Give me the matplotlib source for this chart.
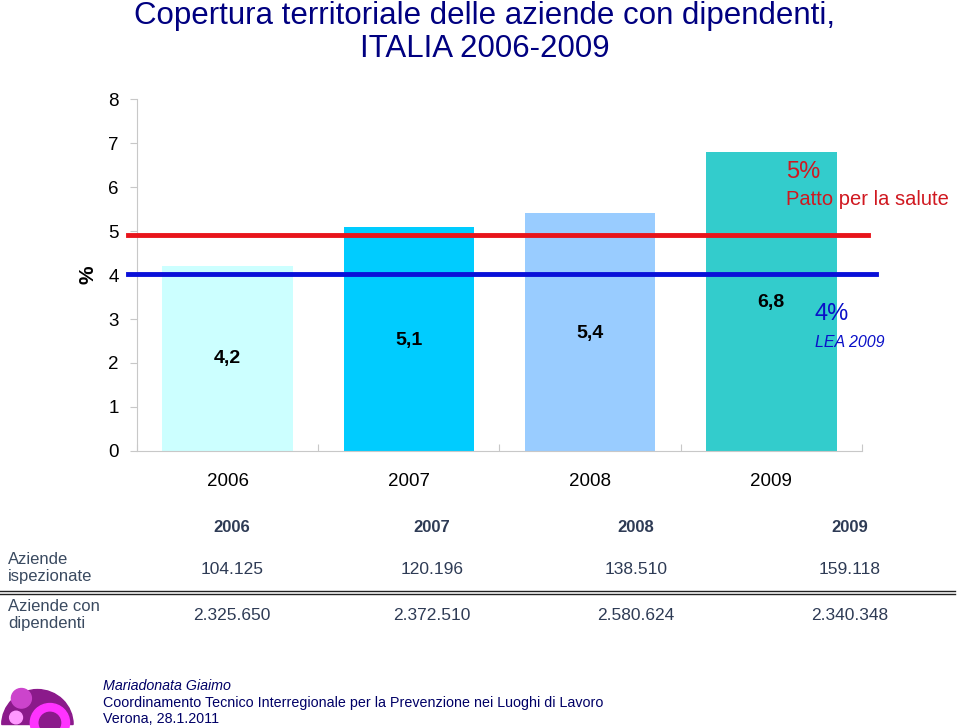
import numpy as np
import matplotlib.pyplot as plt
from matplotlib.patches import Wedge, Circle

plt.rcParams['font.family'] = ['Liberation Sans', 'DejaVu Sans']

years = ["2006", "2007", "2008", "2009"]
copertura = [4.2, 5.1, 5.4, 6.8]
labels = ["4,2", "5,1", "5,4", "6,8"]
colors = ["#CCFFFF", "#00CCFF", "#99CCFF", "#33CCCC"]
patto = 4.92
lea = 4.02
ispezionate = ["104.125", "120.196", "138.510", "159.118"]
dipendenti = ["2.325.650", "2.372.510", "2.580.624", "2.340.348"]

fig = plt.figure(figsize=(9.6, 7.28), dpi=100)

fig.text(0.505, 1 - 16 / 728, "Copertura territoriale delle aziende con dipendenti,",
         ha="center", va="center", color="#000080", fontsize=22.5)
fig.text(0.505, 1 - 49 / 728, "ITALIA 2006-2009",
         ha="center", va="center", color="#000080", fontsize=22.5)

ax = fig.add_axes([0.1427, 0.3805, 0.7552, 0.4835])
x = np.arange(len(years))
ax.bar(x, copertura, width=0.72, color=colors, zorder=2)
for xi, yv, lab in zip(x, [2.1, 2.5, 2.68, 3.37], labels):
    ax.text(xi, yv, lab, ha="center", va="center", fontsize=14, fontweight="bold")

ax.plot([-0.55, 3.535], [patto, patto], color="#E8141B", lw=3.5, clip_on=False, zorder=3)
ax.plot([-0.55, 3.58], [lea, lea], color="#0A10D8", lw=3.5, clip_on=False, zorder=3)

ax.set_xlim(-0.5, 3.5)
ax.set_ylim(0, 8)
ax.set_yticks(range(9))
ax.set_xticks([-0.5, 0.5, 1.5, 2.5, 3.5])
ax.set_xticklabels([])
ax.tick_params(axis="x", length=5, color="#c8c8c8", direction="in")
ax.tick_params(axis="y", length=5, color="#c8c8c8", labelsize=13.5, pad=8)
for xi, yr in zip(x, years):
    ax.text(xi, -0.7, yr, ha="center", va="center", fontsize=13.5)
for s in ["top", "right"]:
    ax.spines[s].set_visible(False)
ax.spines["left"].set_color("#c8c8c8")
ax.spines["bottom"].set_color("#c8c8c8")
ax.set_ylabel("%", fontsize=15, fontweight="bold", labelpad=8)

ax.text(3.08, 6.2, "5%", color="#D01820", fontsize=17)
ax.text(3.08, 5.6, "Patto per la salute", color="#D01820", fontsize=14.5)
ax.text(3.24, 2.98, "4%", color="#0A10C8", fontsize=17)
ax.text(3.24, 2.36, "LEA 2009", color="#0A10C8", fontsize=11.5, style="italic")

# table
tab_x = [232 / 960, 432 / 960, 636 / 960, 850 / 960]
tcol = "#2E3B55"
for tx, yr, a, b in zip(tab_x, years, ispezionate, dipendenti):
    fig.text(tx, 1 - 528 / 728, yr, ha="center", va="center", fontsize=12, color=tcol, fontweight="bold")
    fig.text(tx, 1 - 570 / 728, a, ha="center", va="center", fontsize=12.5, color=tcol)
    fig.text(tx, 1 - 615 / 728, b, ha="center", va="center", fontsize=12.5, color=tcol)
fig.text(8 / 960, 1 - 568 / 728, "Aziende\nispezionate", ha="left", va="center", fontsize=12,
         color="#3A4A60", linespacing=1.2)
fig.text(8 / 960, 1 - 615 / 728, "Aziende con\ndipendenti", ha="left", va="center", fontsize=12,
         color="#3A4A60", linespacing=1.2)
fig.add_artist(plt.Line2D([0, 955 / 960], [1 - 591 / 728] * 2, color="#222222", lw=1))
fig.add_artist(plt.Line2D([0, 955 / 960], [1 - 594 / 728] * 2, color="#222222", lw=1))

# footer
fcol = "#000066"
fig.text(103 / 960, 1 - 686 / 728, "Mariadonata Giaimo", fontsize=10.3, style="italic", color=fcol, va="center")
fig.text(103 / 960, 1 - 703 / 728, "Coordinamento Tecnico Interregionale per la Prevenzione nei Luoghi di Lavoro",
         fontsize=10.3, color=fcol, va="center")
fig.text(103 / 960, 1 - 719 / 728, "Verona, 28.1.2011", fontsize=10.3, color=fcol, va="center")

# logo
lax = fig.add_axes([0.0, 0.0, 0.078, 0.072])
lax.set_xlim(-1.05, 1.05)
lax.set_ylim(-0.1, 1.4)
lax.axis("off")
lax.add_patch(Wedge((0, 0), 1.0, 0, 180, color="#8B1A8B"))
lax.add_patch(Circle((0.35, 0.05), 0.55, color="#FF33FF"))
lax.add_patch(Circle((0.35, 0.05), 0.3, color="#8B1A8B"))
lax.add_patch(Circle((-0.45, 0.75), 0.28, color="#CC44CC"))
lax.add_patch(Circle((-0.6, 0.2), 0.18, color="#FF99FF"))

fig.savefig("out.png", dpi=100)
